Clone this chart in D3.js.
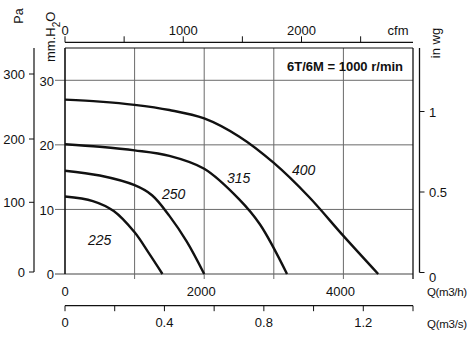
<!DOCTYPE html>
<html><head><meta charset="utf-8">
<script src="https://cdn.jsdelivr.net/npm/d3@7"></script>
<style>
html,body{margin:0;padding:0;background:#fff;}
svg{display:block;font-family:"Liberation Sans",Arial,Helvetica,sans-serif;}
</style></head><body>
<svg id="chart" width="471" height="339"></svg>
<script>
// Fan performance curves: static pressure (mm H2O) against airflow (m3/h)
const sizes = ["225", "250", "315", "400"];
const flow225 = [0, 400, 700, 1000, 1200, 1400];
const press225 = [12.0, 11.3, 9.75, 6.45, 3.3, 0];
const flow250 = [0, 500, 1000, 1250, 1500, 1750, 2000];
const press250 = [16.0, 15.25, 13.75, 12.2, 9.0, 5.0, 0];
const flow315 = [0, 500, 1000, 1500, 2000, 2500, 2800, 3190];
const press315 = [20.1, 19.7, 19.15, 18.3, 16.3, 11.6, 7.7, 0];
const flow400 = [0, 500, 1000, 1500, 2000, 2500, 3000, 3500, 4000, 4500];
const press400 = [27.0, 26.7, 26.2, 25.4, 24.1, 21.3, 17.2, 12.0, 5.9, 0];

// Axis ticks
const flowTicks = [0, 1000, 2000, 3000, 4000, 5000];
const flowLabels = [0, 2000, 4000];
const mmTicks = [0, 10, 20, 30];
const paTicks = [0, 100, 200, 300];
const cfmTicks = [0, 500, 1000, 1500, 2000, 2500];
const cfmLabels = [0, 1000, 2000];
const inwgTicks = [0, 0.5, 1];
const m3sTicks = [0, 0.2, 0.4, 0.6, 0.8, 1.0, 1.2, 1.4];
const m3sLabels = [0, 0.4, 0.8, 1.2];
const title = "6T/6M = 1000 r/min";

const curves = [
  {name: sizes[0], flow: flow225, press: press225},
  {name: sizes[1], flow: flow250, press: press250},
  {name: sizes[2], flow: flow315, press: press315},
  {name: sizes[3], flow: flow400, press: press400}
];
// where each size label sits, in (m3/h, mm H2O)
const labelAnchors = [[330, 4.5], [1394, 11.6], [2328, 14.1], [3262, 15.3]];

const svg = d3.select("#chart");
const ink = "#111";
const gridC = "#6a6a6a";

const x = d3.scaleLinear().domain([0, 5000]).range([65, 413]);
const y = d3.scaleLinear().domain([0, 35]).range([274, 48]);
const yPa = d3.scaleLinear().domain([0, 100, 200, 300]).range([272, 202.3, 139, 74]);
const yIn = d3.scaleLinear().domain([0, 1]).range([272.5, 111.5]);
const xCfm = d3.scaleLinear().domain([0, 5000 / 1.699]).range([65, 413]);
const xS = d3.scaleLinear().domain([0, 1.4]).range([65, 413]);

const g = svg.append("g");

// horizontal grid (extends left as mm ticks)
g.selectAll(".hg").data(mmTicks).join("line")
  .attr("x1", x(0) - 10).attr("x2", x(5000))
  .attr("y1", d => y(d)).attr("y2", d => y(d))
  .attr("stroke", d => d === 0 ? "#444" : gridC).attr("stroke-width", d => d === 0 ? 1.2 : 1);

// vertical grid (extends below as m3/h ticks)
g.selectAll(".vg").data(flowTicks.filter(d => d > 0 && d < 5000)).join("line")
  .attr("x1", d => x(d)).attr("x2", d => x(d))
  .attr("y1", y(35)).attr("y2", y(0) + 5)
  .attr("stroke", gridC).attr("stroke-width", 1);

// frame
g.append("line").attr("x1", x(0)).attr("x2", x(0)).attr("y1", y(35)).attr("y2", y(0))
  .attr("stroke", ink).attr("stroke-width", 1.6);
g.append("line").attr("x1", x(0)).attr("x2", x(5000)).attr("y1", y(35)).attr("y2", y(35))
  .attr("stroke", ink).attr("stroke-width", 1.2);
g.append("line").attr("x1", x(5000)).attr("x2", x(5000)).attr("y1", y(35)).attr("y2", y(0) + 5)
  .attr("stroke", ink).attr("stroke-width", 1.3);

// mm H2O labels
g.selectAll(".mml").data(mmTicks).join("text")
  .attr("x", x(0) - 11).attr("y", d => y(d)).attr("dy", "0.42em")
  .attr("text-anchor", "end").attr("font-size", 13).attr("fill", ink).text(d => d);

// Pa axis
const paX = 34;
g.append("line").attr("x1", paX).attr("x2", paX).attr("y1", y(35)).attr("y2", yPa(0))
  .attr("stroke", ink).attr("stroke-width", 1.2);
g.selectAll(".pat").data(paTicks).join("line")
  .attr("x1", paX - 5).attr("x2", paX).attr("y1", d => yPa(d)).attr("y2", d => yPa(d))
  .attr("stroke", ink).attr("stroke-width", 1);
g.selectAll(".pal").data(paTicks).join("text")
  .attr("x", paX - 9).attr("y", d => yPa(d)).attr("dy", "0.38em")
  .attr("text-anchor", "end").attr("font-size", 13).attr("fill", ink).text(d => d);

// in wg axis
const inX = x(5000) + 6.5;
g.append("line").attr("x1", inX).attr("x2", inX).attr("y1", y(35)).attr("y2", yIn(0))
  .attr("stroke", ink).attr("stroke-width", 1.3);
g.selectAll(".int").data(inwgTicks).join("line")
  .attr("x1", inX).attr("x2", inX + 5).attr("y1", d => yIn(d)).attr("y2", d => yIn(d))
  .attr("stroke", ink).attr("stroke-width", 1);
g.selectAll(".inl").data(inwgTicks).join("text")
  .attr("x", inX + 9.5).attr("y", d => yIn(d)).attr("dy", d => d === 0 ? "0.75em" : "0.4em")
  .attr("font-size", 13).attr("fill", ink).text(d => d);

// cfm axis (top)
const cfmY = 42.3;
g.append("line").attr("x1", xCfm(0)).attr("x2", x(5000)).attr("y1", cfmY).attr("y2", cfmY)
  .attr("stroke", ink).attr("stroke-width", 1.2);
g.selectAll(".cft").data(cfmTicks).join("line")
  .attr("x1", d => xCfm(d)).attr("x2", d => xCfm(d)).attr("y1", cfmY - 6).attr("y2", cfmY)
  .attr("stroke", ink).attr("stroke-width", 1);
g.selectAll(".cfl").data(cfmLabels).join("text")
  .attr("x", d => xCfm(d)).attr("y", 35).attr("text-anchor", "middle")
  .attr("font-size", 13).attr("fill", ink).text(d => d);
g.append("text").attr("x", 398).attr("y", 35).attr("text-anchor", "middle")
  .attr("font-size", 13).attr("fill", ink).text("cfm");

// m3/h labels
g.selectAll(".fl").data(flowLabels).join("text")
  .attr("x", d => x(d) - (d > 0 ? 3 : 0)).attr("y", 296).attr("text-anchor", "middle")
  .attr("font-size", 13).attr("fill", ink).text(d => d);
g.append("text").attr("x", 427).attr("y", 296).attr("font-size", 11.5).attr("fill", ink)
  .attr("textLength", 40).text("Q(m3/h)");

// m3/s axis
const sY = 305.7;
g.append("line").attr("x1", xS(0)).attr("x2", xS(1.4)).attr("y1", sY).attr("y2", sY)
  .attr("stroke", ink).attr("stroke-width", 1.2);
g.selectAll(".st").data(m3sTicks).join("line")
  .attr("x1", d => xS(d)).attr("x2", d => xS(d)).attr("y1", sY).attr("y2", sY + 5.5)
  .attr("stroke", ink).attr("stroke-width", 1);
g.selectAll(".sl").data(m3sLabels).join("text")
  .attr("x", d => xS(d)).attr("y", 327).attr("text-anchor", "middle")
  .attr("font-size", 13).attr("fill", ink).text(d => d);
g.append("text").attr("x", 427).attr("y", 328).attr("font-size", 11.5).attr("fill", ink)
  .attr("textLength", 40).text("Q(m3/s)");

// rotated unit titles
g.append("text").attr("transform", "translate(23,16) rotate(-90)")
  .attr("text-anchor", "middle").attr("font-size", 12.5).attr("fill", ink).text("Pa");
const mm = g.append("text").attr("transform", "translate(55,62) rotate(-90)")
  .attr("font-size", 13).attr("fill", ink);
mm.append("tspan").text("mm.H");
mm.append("tspan").attr("font-size", 10).attr("dy", 5).text("2");
mm.append("tspan").attr("dy", -5).text("O");
g.append("text").attr("transform", "translate(440,43) rotate(-90)")
  .attr("text-anchor", "middle").attr("font-size", 13).attr("fill", ink).text("in wg");

// speed note
g.append("text").attr("x", 403).attr("y", 71).attr("text-anchor", "end")
  .attr("font-size", 13).attr("font-weight", "bold").attr("fill", ink).text(title);

// curves
const line = d3.line().x(d => x(d[0])).y(d => y(d[1])).curve(d3.curveCatmullRom.alpha(0.5));
g.selectAll(".curve").data(curves).join("path")
  .attr("d", c => line(c.flow.map((f, i) => [f, c.press[i]])))
  .attr("fill", "none").attr("stroke", ink).attr("stroke-width", 2.4)
  .attr("stroke-linejoin", "round");

g.selectAll(".clab").data(curves).join("text")
  .attr("x", (c, i) => x(labelAnchors[i][0])).attr("y", (c, i) => y(labelAnchors[i][1]))
  .attr("font-size", 14).attr("font-style", "italic").attr("fill", ink).text(c => c.name);
</script>
</body></html>
